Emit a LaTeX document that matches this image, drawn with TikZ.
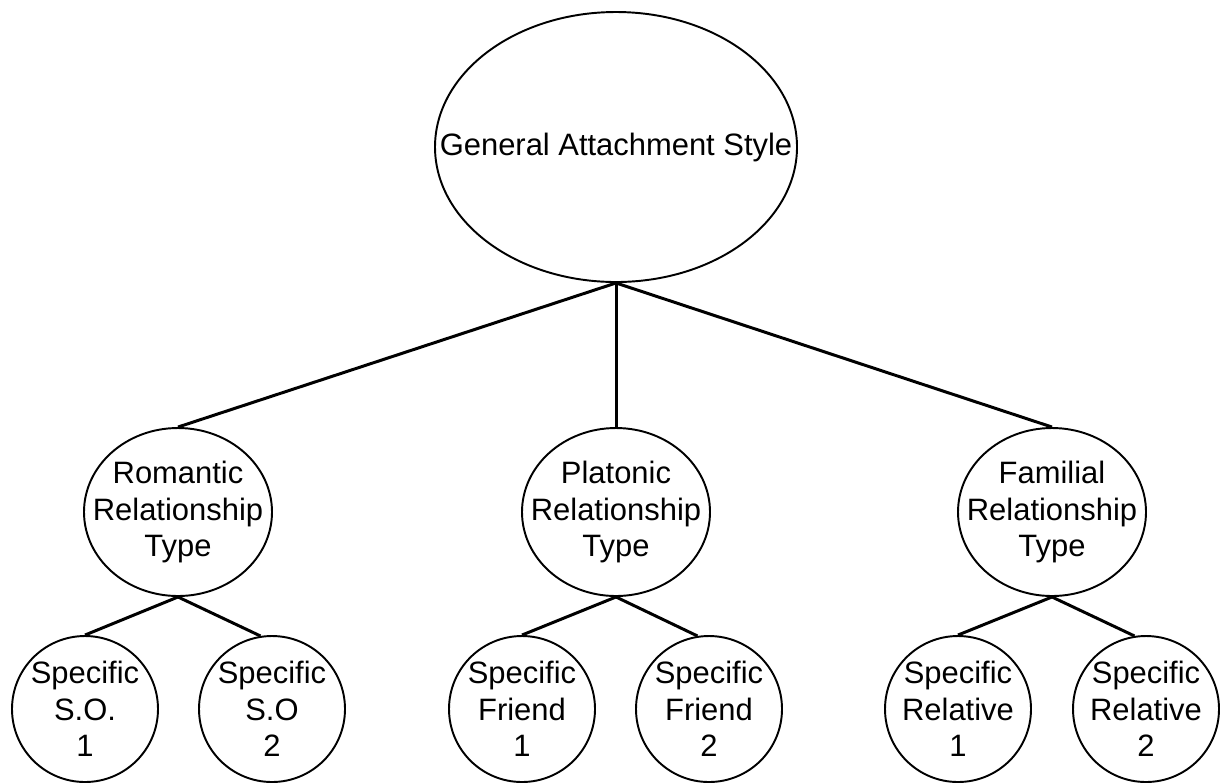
\documentclass[tikz,border=0pt]{standalone}
\usepackage{fontspec}
\setmainfont{Liberation Sans}
\usepackage{tikz}
\usetikzlibrary{shapes.geometric}
\tikzset{
  rootshape/.style={ellipse, draw=black, line width=1.1pt, inner sep=0pt, minimum width=7.24cm, minimum height=5.4cm},
  typeshape/.style={ellipse, draw=black, line width=1.1pt, inner sep=0pt, minimum width=3.76cm, minimum height=3.36cm},
  leafshape/.style={circle, draw=black, line width=1.1pt, inner sep=0pt, minimum size=2.92cm},
  caption/.style={align=center, inner sep=0pt, font=\fontsize{17.6}{20.7}\selectfont},
  branch/.style={line width=1.7pt}
}

\begin{document}
\begin{tikzpicture}
\useasboundingbox (0,0) rectangle (24.46,-15.66);

% Root
\node[rootshape] (root) at (12.32,-2.94) {};
\node[caption] at (root.center) {General Attachment Style};

% Relationship types
\node[typeshape] (rom) at (3.56,-10.24) {};
\node[caption] at (rom.center) {Romantic\\Relationship\\Type};
\node[typeshape] (pla) at (12.32,-10.24) {};
\node[caption] at (pla.center) {Platonic\\Relationship\\Type};
\node[typeshape] (fam) at (21.04,-10.24) {};
\node[caption] at (fam.center) {Familial\\Relationship\\Type};

% Specific people
\node[leafshape] (so1) at (1.70,-14.18) {};
\node[caption] at (so1.center) {Specific\\S.O.\\1};
\node[leafshape] (so2) at (5.44,-14.18) {};
\node[caption] at (so2.center) {Specific\\S.O\\2};
\node[leafshape] (fr1) at (10.44,-14.18) {};
\node[caption] at (fr1.center) {Specific\\Friend\\1};
\node[leafshape] (fr2) at (14.18,-14.18) {};
\node[caption] at (fr2.center) {Specific\\Friend\\2};
\node[leafshape] (rel1) at (19.16,-14.18) {};
\node[caption] at (rel1.center) {Specific\\Relative\\1};
\node[leafshape] (rel2) at (22.92,-14.18) {};
\node[caption] at (rel2.center) {Specific\\Relative\\2};

% Branches
\draw[branch] (root.south) -- (rom.north);
\draw[branch] (root.south) -- (pla.north);
\draw[branch] (root.south) -- (fam.north);
\draw[branch] (rom.south) -- (so1.north);
\draw[branch] (rom.south) -- (so2.99);
\draw[branch] (pla.south) -- (fr1.north);
\draw[branch] (pla.south) -- (fr2.99);
\draw[branch] (fam.south) -- (rel1.north);
\draw[branch] (fam.south) -- (rel2.99);
\end{tikzpicture}
\end{document}
